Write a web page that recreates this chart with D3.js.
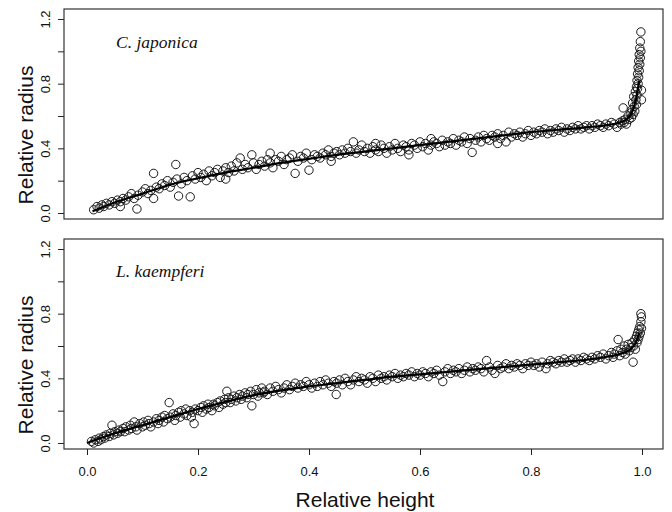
<!DOCTYPE html>
<html><head><meta charset="utf-8">
<script src="https://cdn.jsdelivr.net/npm/d3@7"></script>
<style>body{margin:0;background:#fff}svg{display:block}</style>
</head><body>
<svg id="c" width="672" height="512"></svg>
<script>
// ---- data ----
const xTicks = [0.0, 0.2, 0.4, 0.6, 0.8, 1.0];
const yTicks = [0.0, 0.2, 0.4, 0.6, 0.8, 1.0, 1.2];
const yTickLabels = ["0.0", "", "0.4", "", "0.8", "", "1.2"];
const species = ["C. japonica", "L. kaempferi"];

const japonicaPts = [[0.012,0.02],[0.018,0.04],[0.022,0.03],[0.027,0.05],[0.03,0.04],[0.035,0.06],[0.04,0.05],[0.045,0.07],[0.05,0.06],[0.055,0.08],[0.06,0.04],[0.06,0.07],[0.065,0.09],[0.07,0.08],[0.075,0.10],[0.08,0.12],[0.085,0.09],[0.09,0.025],[0.092,0.11],[0.1,0.13],[0.105,0.15],[0.11,0.12],[0.115,0.14],[0.12,0.245],[0.12,0.09],[0.125,0.16],[0.13,0.15],[0.135,0.18],[0.14,0.17],[0.145,0.20],[0.15,0.16],[0.155,0.19],[0.16,0.30],[0.162,0.21],[0.165,0.105],[0.17,0.18],[0.175,0.22],[0.18,0.20],[0.186,0.10],[0.19,0.23],[0.195,0.21],[0.2,0.25],[0.205,0.22],[0.21,0.24],[0.215,0.20],[0.22,0.26],[0.225,0.23],[0.23,0.25],[0.235,0.27],[0.24,0.22],[0.245,0.26],[0.25,0.28],[0.25,0.21],[0.255,0.25],[0.26,0.29],[0.265,0.26],[0.27,0.31],[0.276,0.34],[0.28,0.27],[0.285,0.30],[0.29,0.28],[0.297,0.36],[0.3,0.31],[0.305,0.27],[0.31,0.30],[0.315,0.32],[0.32,0.29],[0.325,0.33],[0.33,0.31],[0.33,0.37],[0.335,0.28],[0.34,0.33],[0.345,0.32],[0.35,0.35],[0.355,0.30],[0.36,0.33],[0.365,0.34],[0.37,0.36],[0.375,0.245],[0.38,0.32],[0.385,0.35],[0.39,0.34],[0.395,0.37],[0.40,0.265],[0.405,0.33],[0.41,0.36],[0.415,0.35],[0.42,0.34],[0.425,0.37],[0.43,0.36],[0.435,0.39],[0.44,0.35],[0.44,0.32],[0.445,0.37],[0.45,0.38],[0.455,0.36],[0.46,0.39],[0.465,0.37],[0.47,0.40],[0.475,0.38],[0.48,0.44],[0.485,0.37],[0.49,0.39],[0.495,0.42],[0.50,0.38],[0.505,0.40],[0.51,0.37],[0.515,0.41],[0.52,0.39],[0.52,0.43],[0.525,0.38],[0.53,0.42],[0.535,0.40],[0.54,0.37],[0.545,0.41],[0.55,0.39],[0.555,0.43],[0.56,0.40],[0.565,0.38],[0.57,0.42],[0.575,0.41],[0.58,0.39],[0.58,0.36],[0.585,0.43],[0.59,0.42],[0.595,0.40],[0.60,0.44],[0.605,0.41],[0.61,0.43],[0.615,0.39],[0.62,0.42],[0.62,0.46],[0.625,0.44],[0.63,0.43],[0.635,0.41],[0.64,0.45],[0.645,0.42],[0.65,0.44],[0.655,0.43],[0.66,0.46],[0.665,0.42],[0.67,0.45],[0.675,0.44],[0.68,0.47],[0.685,0.43],[0.69,0.46],[0.694,0.375],[0.70,0.45],[0.705,0.47],[0.71,0.44],[0.715,0.48],[0.72,0.46],[0.725,0.45],[0.73,0.48],[0.735,0.47],[0.74,0.49],[0.74,0.43],[0.745,0.46],[0.75,0.48],[0.755,0.44],[0.76,0.50],[0.765,0.47],[0.77,0.49],[0.775,0.48],[0.78,0.50],[0.785,0.47],[0.79,0.49],[0.795,0.51],[0.80,0.48],[0.805,0.50],[0.81,0.49],[0.815,0.51],[0.82,0.50],[0.825,0.52],[0.83,0.49],[0.835,0.51],[0.84,0.50],[0.845,0.52],[0.85,0.51],[0.855,0.53],[0.86,0.50],[0.865,0.52],[0.87,0.51],[0.875,0.53],[0.88,0.52],[0.885,0.54],[0.89,0.52],[0.895,0.53],[0.90,0.54],[0.905,0.52],[0.91,0.54],[0.915,0.53],[0.92,0.55],[0.925,0.54],[0.93,0.53],[0.935,0.55],[0.94,0.54],[0.945,0.56],[0.95,0.55],[0.955,0.53],[0.96,0.56],[0.962,0.55],[0.965,0.57],[0.966,0.65],[0.968,0.56],[0.97,0.58],[0.972,0.55],[0.975,0.60],[0.977,0.58],[0.98,0.62],[0.981,0.59],[0.982,0.64],[0.983,0.68],[0.984,0.61],[0.985,0.72],[0.986,0.66],[0.987,0.63],[0.988,0.75],[0.989,0.70],[0.99,0.78],[0.99,0.67],[0.991,0.82],[0.991,0.73],[0.992,0.86],[0.992,0.77],[0.993,0.90],[0.993,0.80],[0.994,0.94],[0.994,0.84],[0.995,0.98],[0.995,0.88],[0.996,1.02],[0.996,0.92],[0.997,1.06],[0.997,0.96],[0.998,1.12],[0.998,1.00],[0.999,0.70],[0.999,0.76]];

const kaempferiPts = [[0.008,0.01],[0.012,0.00],[0.015,0.02],[0.02,0.01],[0.022,0.03],[0.025,0.02],[0.03,0.04],[0.032,0.03],[0.035,0.05],[0.04,0.04],[0.042,0.06],[0.045,0.11],[0.048,0.05],[0.05,0.07],[0.055,0.06],[0.058,0.08],[0.06,0.07],[0.065,0.09],[0.068,0.07],[0.07,0.10],[0.075,0.08],[0.078,0.11],[0.08,0.09],[0.085,0.13],[0.088,0.10],[0.09,0.08],[0.095,0.12],[0.1,0.10],[0.102,0.13],[0.105,0.11],[0.11,0.14],[0.112,0.12],[0.115,0.10],[0.12,0.13],[0.125,0.15],[0.128,0.12],[0.13,0.14],[0.135,0.16],[0.138,0.13],[0.14,0.17],[0.145,0.15],[0.148,0.25],[0.15,0.16],[0.155,0.18],[0.158,0.14],[0.16,0.17],[0.165,0.19],[0.168,0.16],[0.17,0.20],[0.175,0.18],[0.178,0.21],[0.18,0.17],[0.185,0.20],[0.188,0.16],[0.19,0.19],[0.193,0.12],[0.195,0.21],[0.2,0.20],[0.205,0.22],[0.208,0.19],[0.21,0.23],[0.215,0.21],[0.218,0.24],[0.22,0.22],[0.225,0.20],[0.228,0.24],[0.23,0.23],[0.235,0.25],[0.238,0.22],[0.24,0.26],[0.245,0.24],[0.248,0.27],[0.25,0.25],[0.252,0.32],[0.255,0.28],[0.258,0.25],[0.26,0.27],[0.265,0.29],[0.268,0.26],[0.27,0.28],[0.275,0.30],[0.278,0.27],[0.28,0.29],[0.285,0.31],[0.288,0.28],[0.29,0.30],[0.295,0.32],[0.297,0.23],[0.3,0.30],[0.305,0.33],[0.308,0.29],[0.31,0.31],[0.315,0.34],[0.318,0.31],[0.32,0.32],[0.325,0.30],[0.33,0.34],[0.335,0.32],[0.34,0.35],[0.345,0.33],[0.35,0.31],[0.355,0.34],[0.36,0.36],[0.365,0.33],[0.37,0.35],[0.375,0.37],[0.38,0.34],[0.385,0.36],[0.39,0.35],[0.395,0.38],[0.4,0.36],[0.405,0.34],[0.41,0.37],[0.415,0.35],[0.42,0.38],[0.425,0.36],[0.43,0.39],[0.435,0.37],[0.44,0.35],[0.445,0.38],[0.449,0.30],[0.45,0.37],[0.455,0.39],[0.46,0.36],[0.465,0.40],[0.47,0.38],[0.475,0.36],[0.48,0.39],[0.485,0.41],[0.49,0.38],[0.495,0.40],[0.5,0.39],[0.505,0.37],[0.51,0.41],[0.515,0.40],[0.52,0.38],[0.525,0.42],[0.53,0.40],[0.535,0.41],[0.54,0.39],[0.545,0.42],[0.55,0.41],[0.555,0.43],[0.56,0.40],[0.565,0.42],[0.57,0.41],[0.575,0.43],[0.58,0.42],[0.585,0.44],[0.59,0.41],[0.595,0.43],[0.6,0.42],[0.605,0.44],[0.61,0.43],[0.615,0.41],[0.62,0.44],[0.625,0.43],[0.63,0.45],[0.635,0.42],[0.641,0.38],[0.645,0.44],[0.65,0.46],[0.655,0.43],[0.66,0.45],[0.665,0.44],[0.67,0.46],[0.675,0.43],[0.68,0.45],[0.685,0.47],[0.69,0.44],[0.695,0.46],[0.7,0.45],[0.705,0.47],[0.71,0.46],[0.715,0.44],[0.72,0.51],[0.725,0.47],[0.73,0.45],[0.735,0.43],[0.74,0.48],[0.745,0.46],[0.75,0.47],[0.755,0.49],[0.76,0.46],[0.765,0.48],[0.77,0.47],[0.775,0.49],[0.78,0.48],[0.785,0.46],[0.79,0.49],[0.795,0.48],[0.8,0.50],[0.805,0.48],[0.81,0.49],[0.815,0.47],[0.82,0.50],[0.827,0.46],[0.83,0.49],[0.835,0.51],[0.84,0.50],[0.845,0.49],[0.85,0.51],[0.855,0.50],[0.86,0.52],[0.865,0.50],[0.87,0.51],[0.875,0.52],[0.88,0.50],[0.885,0.52],[0.89,0.51],[0.895,0.53],[0.9,0.52],[0.905,0.51],[0.91,0.53],[0.915,0.52],[0.92,0.54],[0.925,0.53],[0.93,0.55],[0.935,0.52],[0.94,0.54],[0.945,0.56],[0.948,0.53],[0.95,0.55],[0.955,0.57],[0.957,0.64],[0.96,0.54],[0.962,0.58],[0.965,0.56],[0.968,0.60],[0.97,0.55],[0.972,0.58],[0.975,0.61],[0.977,0.57],[0.98,0.59],[0.982,0.62],[0.984,0.50],[0.985,0.60],[0.987,0.64],[0.988,0.58],[0.99,0.66],[0.991,0.62],[0.992,0.68],[0.993,0.64],[0.994,0.70],[0.995,0.66],[0.996,0.72],[0.997,0.68],[0.998,0.75],[0.998,0.80],[0.999,0.78],[0.999,0.71]];

const japonicaFitX = [0.01,0.05,0.1,0.15,0.2,0.25,0.3,0.35,0.4,0.45,0.5,0.55,0.6,0.65,0.7,0.75,0.8,0.85,0.9,0.94,0.96,0.97,0.98,0.985,0.99,0.995];
const japonicaFitY = [0.01,0.065,0.12,0.175,0.215,0.25,0.28,0.31,0.335,0.36,0.38,0.40,0.42,0.44,0.46,0.48,0.50,0.515,0.53,0.545,0.56,0.575,0.61,0.65,0.72,0.82];
const kaempferiFitX = [0.0,0.05,0.1,0.15,0.2,0.25,0.3,0.35,0.4,0.45,0.5,0.55,0.6,0.65,0.7,0.75,0.8,0.85,0.9,0.94,0.96,0.975,0.985,0.99,0.995];
const kaempferiFitY = [0.0,0.06,0.11,0.16,0.21,0.255,0.295,0.325,0.35,0.37,0.39,0.41,0.425,0.44,0.455,0.47,0.485,0.50,0.515,0.535,0.55,0.57,0.60,0.63,0.68];

// ---- layout ----
const svg = d3.select("#c");
const left = 64, right = 663;
const x = d3.scaleLinear().domain([0, 1]).range([87, 642]);
const panels = [
  {pts: japonicaPts, fx: japonicaFitX, fy: japonicaFitY, name: species[0], top: 9, bottom: 219, y0: 213, y12: 19, xAxis: false, labY: 48},
  {pts: kaempferiPts, fx: kaempferiFitX, fy: kaempferiFitY, name: species[1], top: 239, bottom: 449, y0: 443, y12: 249, xAxis: true, labY: 277}
];
const sans = "'Liberation Sans', Arial, Helvetica, sans-serif";

panels.forEach(p => {
  const y = d3.scaleLinear().domain([0, 1.2]).range([p.y0, p.y12]);
  const g = svg.append("g");
  g.selectAll("circle").data(p.pts).enter().append("circle")
    .attr("cx", d => x(d[0])).attr("cy", d => y(d[1])).attr("r", 4.2)
    .attr("fill", "none").attr("stroke", "#1a1a1a").attr("stroke-width", 1);
  const line = d3.line().x(d => x(d[0])).y(d => y(d[1])).curve(d3.curveMonotoneX);
  g.append("path").datum(p.fx.map((v, i) => [v, p.fy[i]]))
    .attr("d", line).attr("fill", "none").attr("stroke", "#000").attr("stroke-width", 2.2);
  g.append("rect").attr("x", left).attr("y", p.top).attr("width", right - left).attr("height", p.bottom - p.top)
    .attr("fill", "none").attr("stroke", "#222").attr("stroke-width", 1.1);
  const ya = d3.axisLeft(y).tickValues(yTicks).tickSize(6).tickPadding(0).tickFormat(() => "");
  const yg = g.append("g").attr("transform", `translate(${left},0)`).call(ya);
  yg.select(".domain").remove();
  yg.selectAll(".tick line").attr("stroke", "#222");
  yg.selectAll(".tick").append("text").text((d, i) => yTickLabels[i])
    .attr("transform", "translate(-14,0) rotate(-90)").attr("text-anchor", "middle")
    .attr("fill", "#111").attr("font-family", sans).attr("font-size", 13);
  g.append("text").text("Relative radius")
    .attr("transform", `translate(33,${(p.y0 + p.y12) / 2 + 19}) rotate(-90)`)
    .attr("text-anchor", "middle").attr("font-family", sans).attr("font-size", 21).attr("fill", "#111");
  g.append("text").text(p.name).attr("x", 116).attr("y", p.labY)
    .attr("font-family", "'Liberation Serif', 'Times New Roman', serif").attr("font-style", "italic")
    .attr("font-size", 17.5).attr("fill", "#111");
  if (p.xAxis) {
    const xa = d3.axisBottom(x).tickValues(xTicks).tickSize(6).tickPadding(12).tickFormat(d3.format(".1f"));
    const xg = g.append("g").attr("transform", `translate(0,${p.bottom})`).call(xa);
    xg.select(".domain").remove();
    xg.selectAll(".tick line").attr("stroke", "#222");
    xg.selectAll(".tick text").attr("font-family", sans).attr("font-size", 13).attr("fill", "#111");
    g.append("text").text("Relative height").attr("x", 365).attr("y", 507)
      .attr("text-anchor", "middle").attr("font-family", sans).attr("font-size", 21).attr("fill", "#111");
  }
});
</script>
</body></html>
